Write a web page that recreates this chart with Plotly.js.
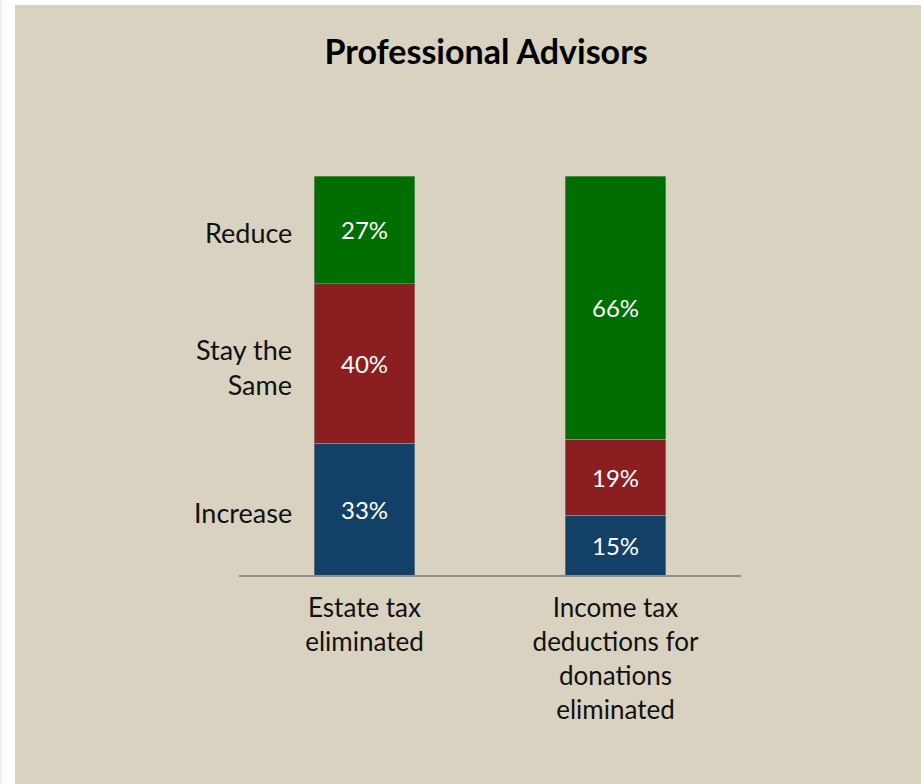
<!DOCTYPE html>
<html>
<head>
<meta charset="utf-8">
<script src="https://cdn.plot.ly/plotly-3.0.1.min.js"></script>
<style>
  html, body { margin: 0; padding: 0; background: #ffffff; width: 921px; height: 784px; overflow: hidden; }
  #strip { position: absolute; left: 0; top: 0; width: 2px; height: 784px; background: #efefef; }
  #chart { position: absolute; left: 15px; top: 5px; width: 906px; height: 779px; }
</style>
</head>
<body>
<div id="strip"></div>
<div id="chart"></div>
<script>
const categories = ["Estate tax<br>eliminated", "Income tax<br>deductions for<br>donations<br>eliminated"];
const seriesNames = ["Increase", "Stay the<br>Same", "Reduce"];
const increase = [33, 15];
const stayTheSame = [40, 19];
const reduce = [27, 66];
const seriesColors = ["#124067", "#8B1E21", "#006E00"];

const seriesValues = [increase, stayTheSame, reduce];
const FONT = "Lato, 'Open Sans', sans-serif";

const traces = seriesValues.map((vals, i) => ({
  type: "bar",
  x: categories,
  y: vals,
  name: seriesNames[i],
  marker: { color: seriesColors[i], line: { width: 0.6, color: "rgba(160,160,160,0.8)" } },
  texttemplate: "%{y}%",
  textposition: "inside",
  insidetextanchor: "middle",
  textfont: { color: "#ffffff", size: 24, family: FONT },
  hoverinfo: "skip"
}));

// category labels beside the first bar, at each segment's midpoint
let cum = 0;
const annotations = seriesValues.map((vals, i) => {
  const mid = cum + vals[0] / 2;
  cum += vals[0];
  return {
    xref: "paper", yref: "y",
    x: 0.11, y: mid,
    xanchor: "right", yanchor: "middle",
    yshift: -3,
    text: seriesNames[i],
    align: "right",
    showarrow: false,
    font: { size: 27, color: "#111111", family: FONT }
  };
});

const layout = {
  width: 906, height: 779,
  paper_bgcolor: "#D9D2C1",
  plot_bgcolor: "#D9D2C1",
  barmode: "stack",
  bargap: 0.6,
  showlegend: false,
  margin: { l: 224, r: 180, t: 171, b: 209 },
  title: {
    text: "<b>Professional Advisors</b>",
    x: 0.52, xanchor: "center",
    y: 0.94, yanchor: "middle",
    font: { size: 34, color: "#000000", family: FONT }
  },
  xaxis: {
    type: "category",
    range: [-0.5, 1.5],
    showline: true, linecolor: "#8E8E8E", linewidth: 2,
    showgrid: false, zeroline: false, ticks: "",
    tickfont: { size: 26, color: "#111111", family: FONT },
    ticklabelstandoff: 9
  },
  yaxis: {
    range: [0, 100],
    visible: false,
    showgrid: false, zeroline: false
  },
  annotations: annotations
};

Plotly.newPlot("chart", traces, layout, { displayModeBar: false, staticPlot: true });
</script>
</body>
</html>
